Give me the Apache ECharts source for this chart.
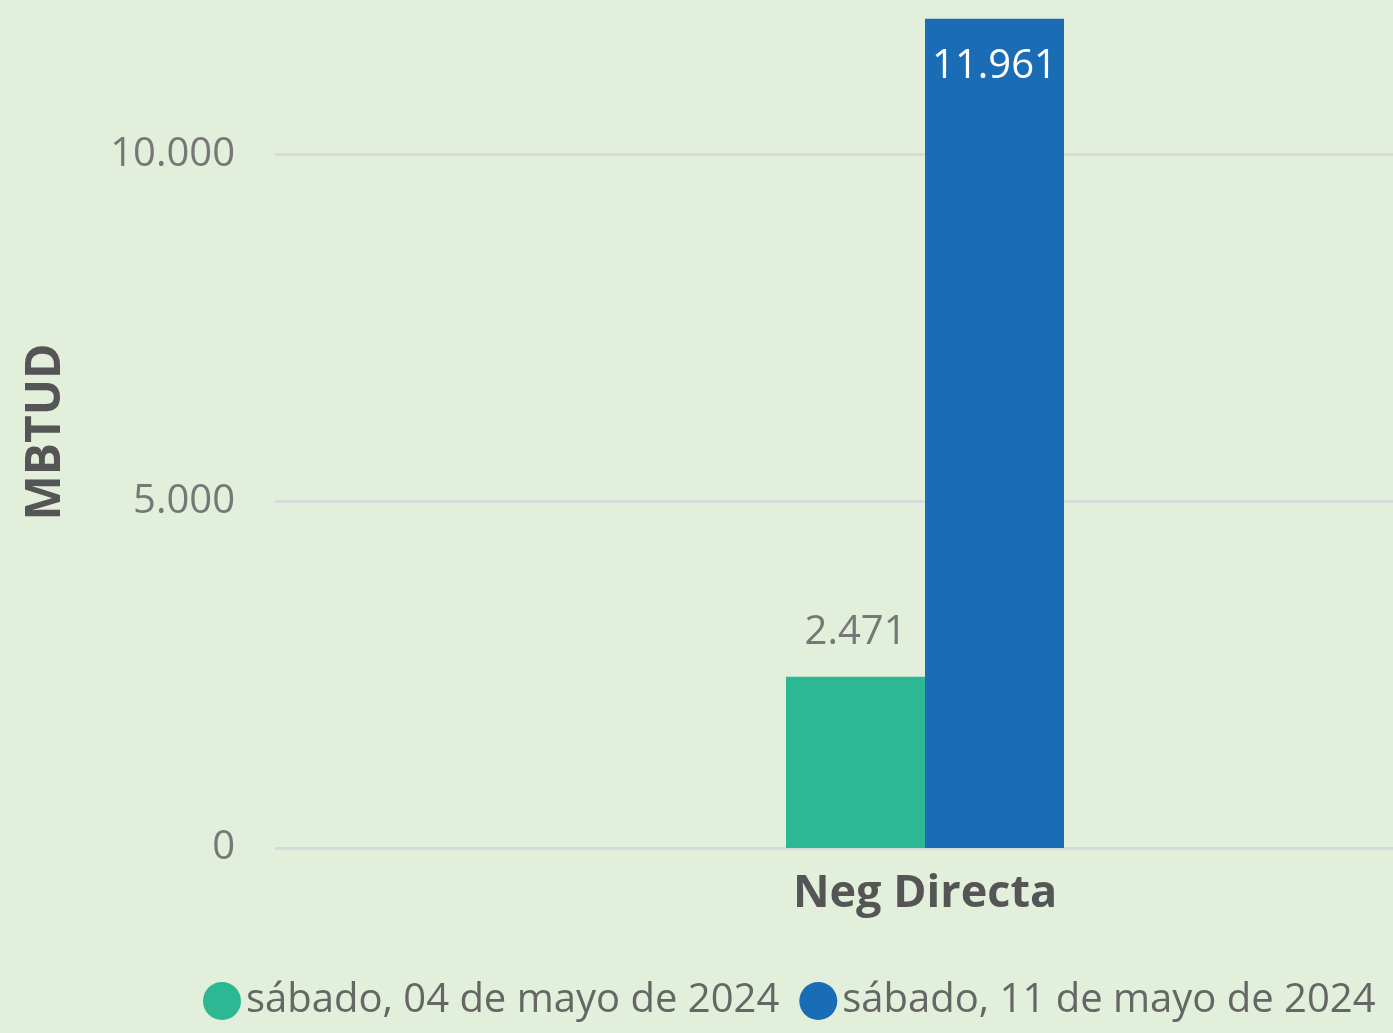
<!DOCTYPE html>
<html>
<head>
<meta charset="utf-8">
<script src="https://cdn.jsdelivr.net/npm/echarts@6/dist/echarts.min.js"></script>
<style>
  html, body { margin: 0; padding: 0; background: #E2EFDA; }
  #chart { width: 1393px; height: 1033px; }
</style>
</head>
<body>
<div id="chart"></div>
<script>
const categories = ["Neg Directa"];
const seriesNames = ["sábado, 04 de mayo de 2024", "sábado, 11 de mayo de 2024"];
const valuesMay04 = [2471];
const valuesMay11 = [11961];

const FONT = "'Open Sans', 'Noto Sans', sans-serif";
const fmt = v => v.toLocaleString("de-DE");

const chart = echarts.init(document.getElementById("chart"));

chart.setOption({
  backgroundColor: "#E2EFDA",
  animation: false,
  textStyle: { fontFamily: FONT },
  // plot area runs past the right edge, as in the original crop
  grid: { left: 275, width: 1300, top: 16, bottom: 185, outerBoundsMode: "none", containLabel: false },
  legend: {
    left: 203, top: 981, padding: 0,
    icon: "circle", itemWidth: 38, itemHeight: 38, itemGap: 20,
    textStyle: { color: "#666", fontSize: 40, fontFamily: FONT },
    data: seriesNames,
  },
  xAxis: {
    type: "category",
    data: categories,
    axisLine: { show: false },
    axisTick: { show: false },
    axisLabel: { color: "#555", fontSize: 45, fontWeight: "bold", margin: 24, fontFamily: FONT },
  },
  yAxis: {
    type: "value",
    min: 0, max: 12000, interval: 5000,
    name: "MBTUD",
    nameLocation: "middle",
    nameGap: 205,
    nameTextStyle: { color: "#555", fontSize: 48, fontWeight: "bold", fontFamily: FONT },
    axisLine: { show: false },
    axisTick: { show: false },
    axisLabel: {
      color: "#777", fontSize: 40, margin: 40, showMaxLabel: false,
      formatter: v => fmt(v),
    },
    splitLine: { showMaxLine: false, lineStyle: { color: "#D9D9D9", width: 3 } },
  },
  series: [
    {
      name: seriesNames[0], type: "bar", data: valuesMay04,
      barWidth: 139, barGap: "0%",
      itemStyle: { color: "#2BB893" },
      label: {
        show: true, position: "top", distance: 24,
        color: "#777", fontSize: 40, fontFamily: FONT,
        formatter: p => fmt(p.value),
      },
    },
    {
      name: seriesNames[1], type: "bar", data: valuesMay11,
      barWidth: 139,
      itemStyle: { color: "#1A6CB4" },
      label: {
        show: true, position: "insideTop", distance: 28,
        color: "#fff", fontSize: 40, fontFamily: FONT,
        formatter: p => fmt(p.value),
      },
    },
  ],
});
</script>
</body>
</html>
